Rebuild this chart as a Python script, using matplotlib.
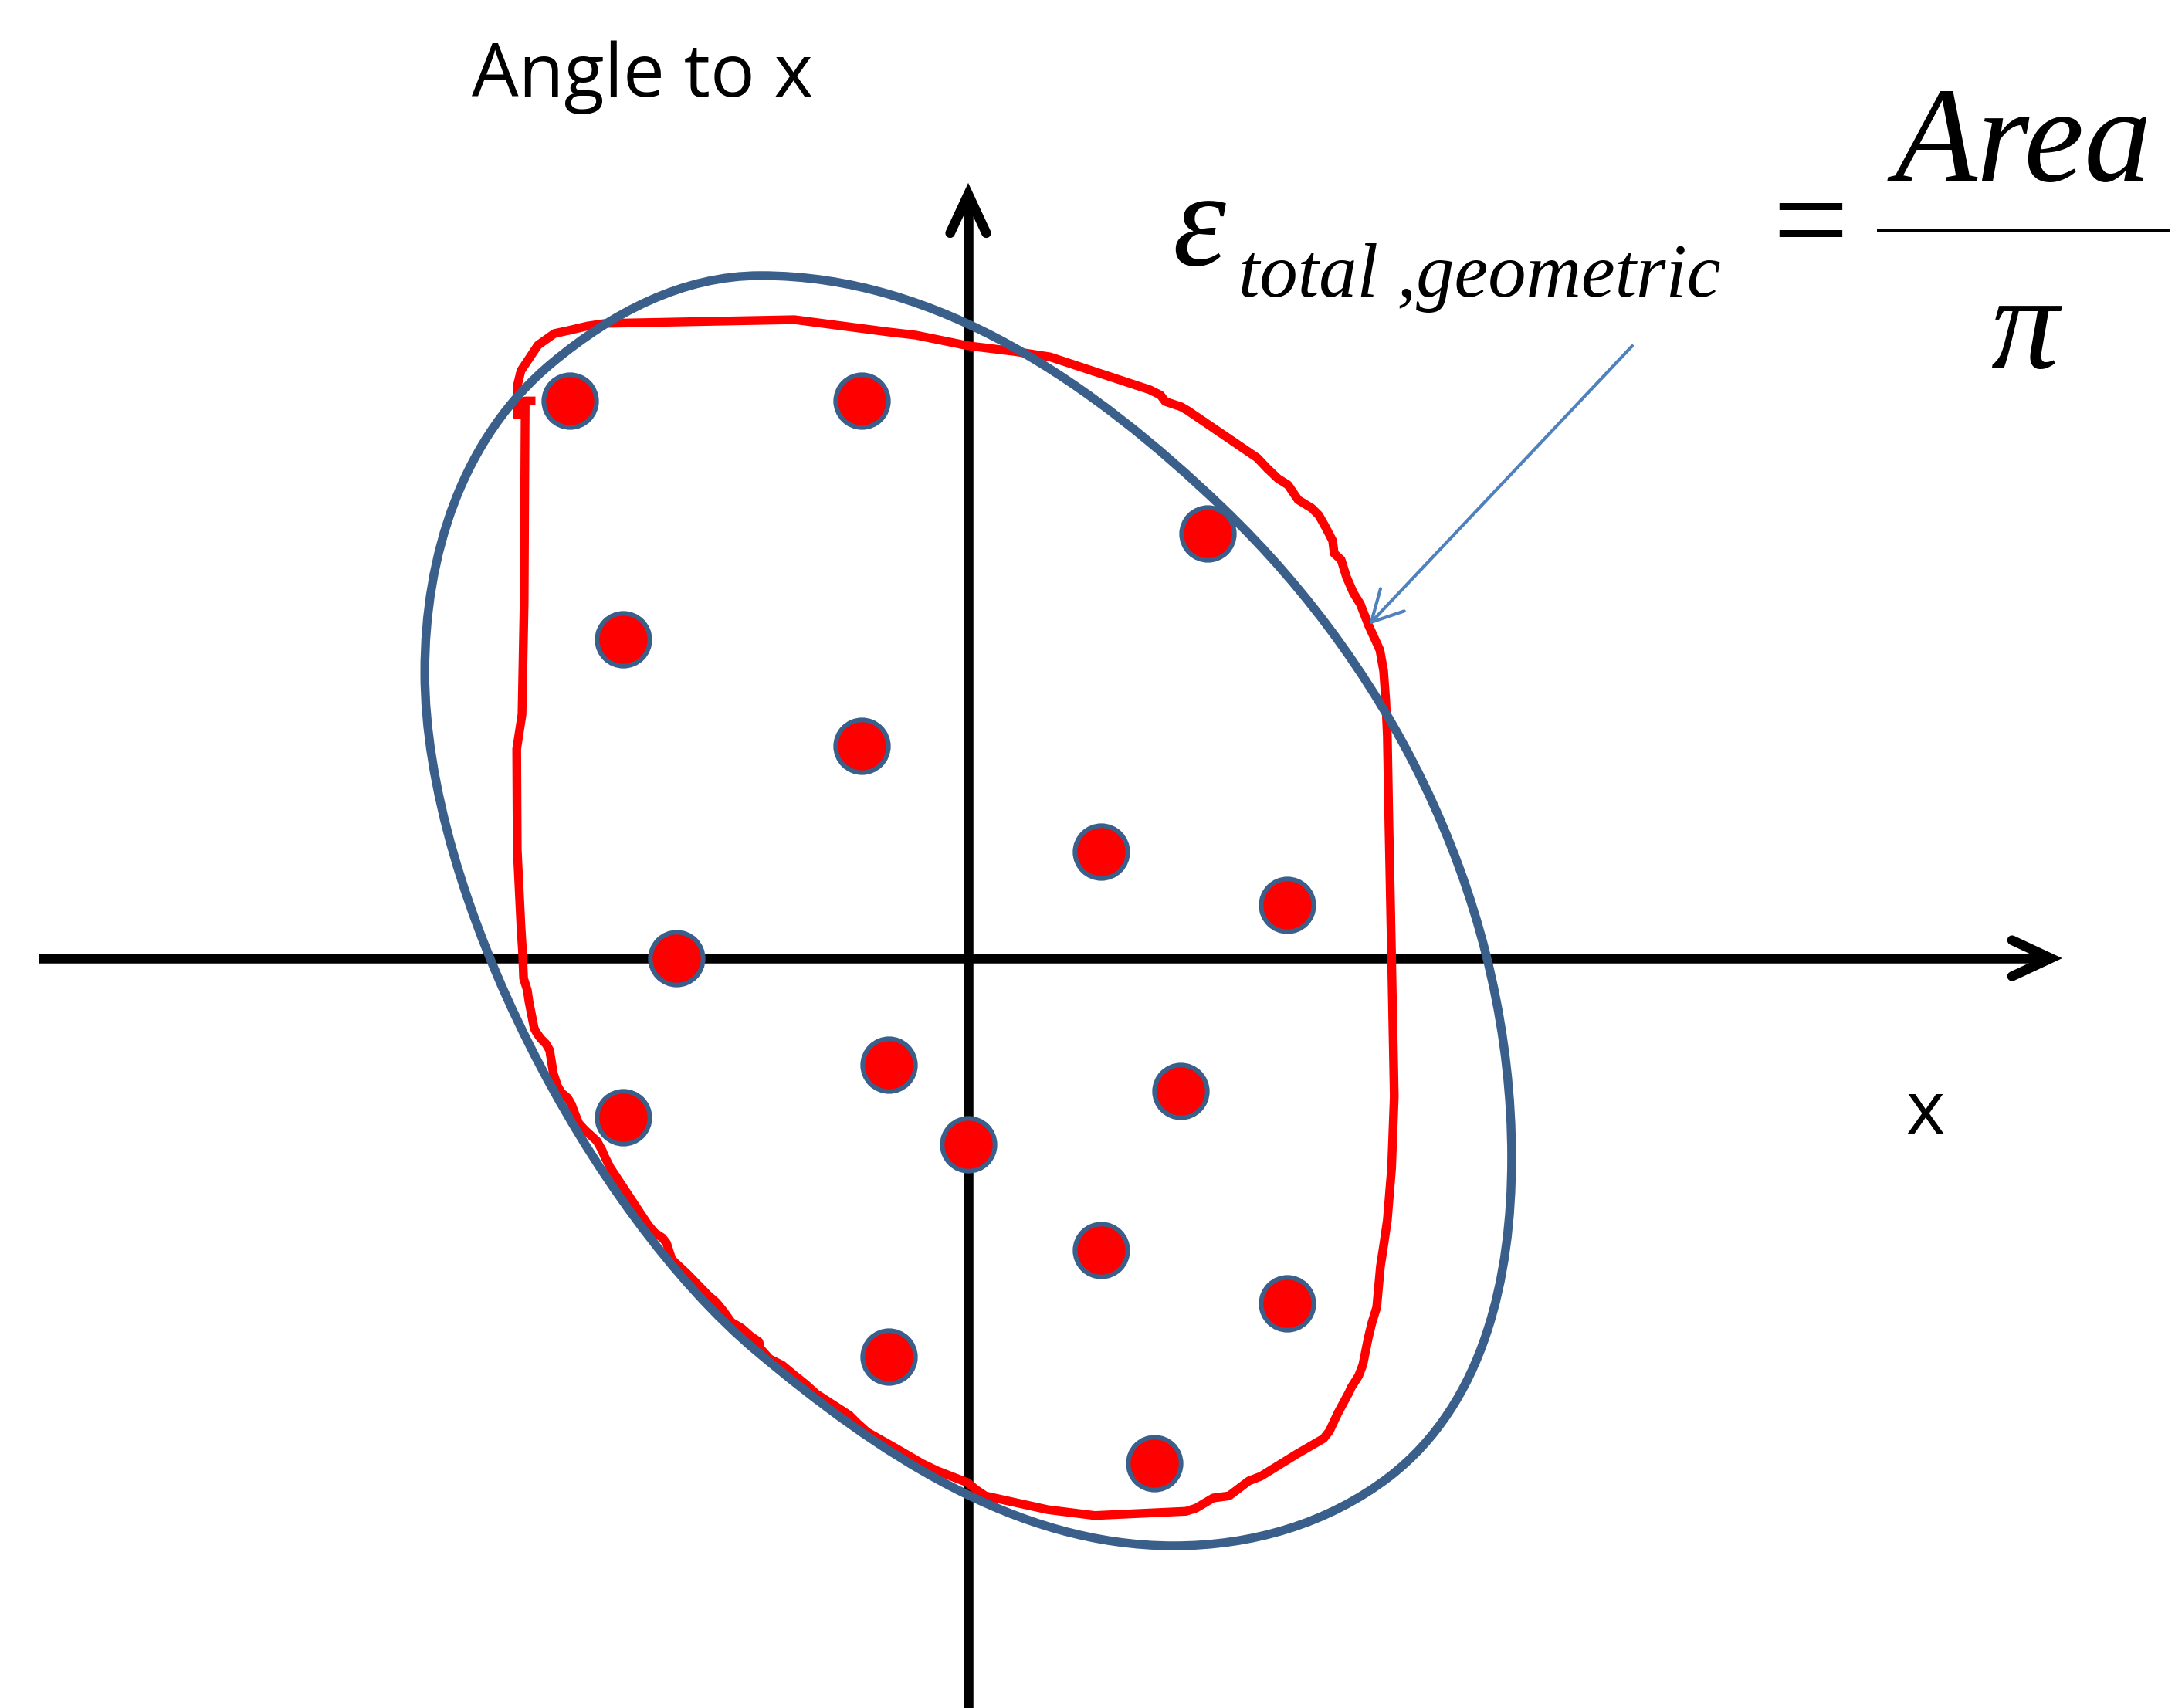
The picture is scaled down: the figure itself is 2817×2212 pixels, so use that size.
import numpy as np
import matplotlib
matplotlib.use("Agg")
import matplotlib.pyplot as plt
from matplotlib.path import Path
from matplotlib.patches import PathPatch, FancyArrowPatch, ArrowStyle

# beam particles in (x, x') grid units
dot_x = [-7.5, -2, 4.5, -6.5, -2, 2.5, 6, -5.5, -1.5, 4, -6.5, 0, 2.5, 6, -1.5, 3.5]
dot_y = [10.5, 10.5, 8, 6, 4, 2, 1, 0, -2, -2.5, -3, -3.5, -5.5, -6.5, -7.5, -9.5]

# outline hugging the particles (drawn by hand)
red_x = [-8.49, -8.49, -8.42, -8.10, -7.79, -7.51, -7.17, -6.83, -3.27, -1.51,
         -0.99, -0.35, -0.01, 0.89, 1.54, 3.42, 3.62, 3.71, 4.01, 4.13,
         5.44, 5.63, 5.83, 6.02, 6.21, 6.47, 6.60, 6.73, 6.86, 6.89,
         7.02, 7.12, 7.25, 7.38, 7.47, 7.54, 7.65, 7.75, 7.82, 7.86,
         7.89, 7.92, 7.97, 8.02, 7.97, 7.89, 7.82, 7.76, 7.69, 7.60,
         7.53, 7.43, 7.35, 7.21, 7.17, 6.96, 6.80, 6.69, 6.19, 5.51,
         5.28, 4.91, 4.61, 4.29, 4.10, 2.38, 1.50, 0.32, 0.13, -0.01,
         -0.58, -0.87, -1.37, -1.90, -2.09, -2.24, -2.86, -3.07, -3.26, -3.50,
         -3.74, -3.91, -3.94, -4.10, -4.27, -4.46, -4.61, -4.74, -4.90, -5.29,
         -5.58, -5.68, -5.76, -5.90, -6.02, -6.74, -6.85, -6.89, -6.99, -7.11,
         -7.22, -7.33, -7.40, -7.47, -7.54, -7.66, -7.73, -7.81, -7.88, -7.95,
         -8.05, -8.12, -8.17, -8.27, -8.30, -8.37, -8.39, -8.42, -8.49, -8.50,
         -8.40, -8.36, -8.34, -8.23]
red_y = [10.23, 10.77, 11.06, 11.54, 11.76, 11.82, 11.90, 11.95, 12.02, 11.79,
         11.73, 11.60, 11.53, 11.42, 11.32, 10.70, 10.60, 10.48, 10.38, 10.31,
         9.42, 9.22, 9.03, 8.91, 8.63, 8.47, 8.34, 8.11, 7.86, 7.62,
         7.50, 7.18, 6.88, 6.67, 6.44, 6.26, 6.02, 5.80, 5.41, 4.85,
         4.19, 2.51, 0.01, -2.60, -3.95, -4.93, -5.41, -5.80, -6.57, -6.86,
         -7.15, -7.65, -7.86, -8.08, -8.17, -8.56, -8.90, -9.04, -9.33, -9.75,
         -9.84, -10.12, -10.16, -10.35, -10.41, -10.49, -10.38, -10.12, -9.99, -9.87,
         -9.65, -9.51, -9.22, -8.92, -8.75, -8.60, -8.20, -8.01, -7.86, -7.66,
         -7.54, -7.35, -7.22, -7.11, -6.96, -6.85, -6.64, -6.48, -6.34, -5.94,
         -5.67, -5.36, -5.26, -5.17, -5.03, -3.94, -3.72, -3.62, -3.44, -3.33,
         -3.23, -3.11, -2.94, -2.75, -2.63, -2.53, -2.41, -2.17, -1.73, -1.61,
         -1.51, -1.41, -1.32, -0.81, -0.60, -0.38, 0.12, 0.60, 2.05, 3.94,
         4.59, 6.70, 10.49, 10.49]

# fitted ellipse-like contour: anchor, handle, handle, anchor ... (cubic bezier)
ell_x = [-3.91, -0.55, 2.37, 4.78, 8.11, 10.23, 10.23, 10.23, 9.71, 7.94,
         6.77, 5.33, 3.87, 0.89, -1.72, -3.98, -7.08, -10.23, -10.23, -10.23,
         -9.53, -7.83, -6.70, -5.38, -3.91]
ell_y = [12.85, 12.85, 10.80, 8.49, 5.31, 0.86, -3.76, -6.02, -8.37, -9.75,
         -10.65, -11.06, -11.06, -11.06, -9.30, -7.40, -4.80, 1.16, 5.38, 7.59,
         9.80, 11.21, 12.15, 12.85, 12.85]

W, H = 2817, 2212
RED = "#FF0000"
BLUE = "#3B5F8B"
LIGHT = "#4F81BD"


def fx(px):
    return px / W


def fy(py):
    return 1 - py / H


fig = plt.figure(figsize=(W / 100, H / 100), dpi=100)
ax = fig.add_axes([0, 0, 1, 1])
ax.set_xlim(-18.227, 22.718)
ax.set_ylim(-14.113, 18.038)
ax.axis("off")

# coordinate axes with open arrow heads
ax.plot([-17.5, 20.3], [0, 0], color="black", lw=9, solid_capstyle="butt", zorder=1)
ax.plot([19.65, 20.38, 19.65], [0.34, 0, -0.34], color="black", lw=9,
        solid_capstyle="round", solid_joinstyle="miter", zorder=1)
ax.plot([0, 0], [-14.5, 14.3], color="black", lw=9, solid_capstyle="butt", zorder=1)
ax.plot([-0.34, 0, 0.34], [13.65, 14.38, 13.65], color="black", lw=9,
        solid_capstyle="round", solid_joinstyle="miter", zorder=1)

ax.plot(red_x, red_y, color=RED, lw=8.2, solid_joinstyle="round", zorder=2)

codes = [Path.MOVETO] + [Path.CURVE4] * (len(ell_x) - 1)
verts = np.column_stack([ell_x, ell_y])
ax.add_patch(PathPatch(Path(verts, codes), facecolor="none", edgecolor=BLUE, lw=8.2, zorder=3))

ax.scatter(dot_x, dot_y, s=2420, c=RED, edgecolors=BLUE, linewidths=4.3, zorder=4)

# pointer to the outline
arr = FancyArrowPatch((fx(2114), fy(448)), (fx(1773), fy(809)), transform=fig.transFigure,
                      arrowstyle=ArrowStyle("->", head_length=28.6, head_width=15.2),
                      mutation_scale=1, color=LIGHT, lw=3.0, shrinkA=0, shrinkB=0, zorder=5)
fig.patches.append(arr)

sans = ["Open Sans", "DejaVu Sans"]
serif = ["Liberation Serif", "DejaVu Serif"]
fig.text(fx(611), fy(125), "Angle to x", family=sans, fontsize=69, ha="left", va="baseline")
fig.text(fx(2493), fy(1468), "x", family=sans, fontsize=69, ha="center", va="baseline")

fig.text(fx(1518), fy(343), "\u03b5", family=serif, style="italic", fontsize=126,
         ha="left", va="baseline")
fig.text(fx(1604), fy(384), "total ,geometric", family=serif, style="italic", fontsize=71,
         ha="left", va="baseline")
fig.text(fx(2345), fy(343), "=", family=serif, fontsize=126, ha="center", va="baseline")
fig.text(fx(2620), fy(234), "Area", family=serif, style="italic", fontsize=126,
         ha="center", va="baseline")
fig.text(fx(2622), fy(476), "\u03c0", family=serif, style="italic", fontsize=126,
         ha="center", va="baseline")
fig.add_artist(plt.Line2D([fx(2433), fx(2808)], [fy(298), fy(298)], color="black", lw=3.6))

fig.savefig("out.png", dpi=100, facecolor="white")
